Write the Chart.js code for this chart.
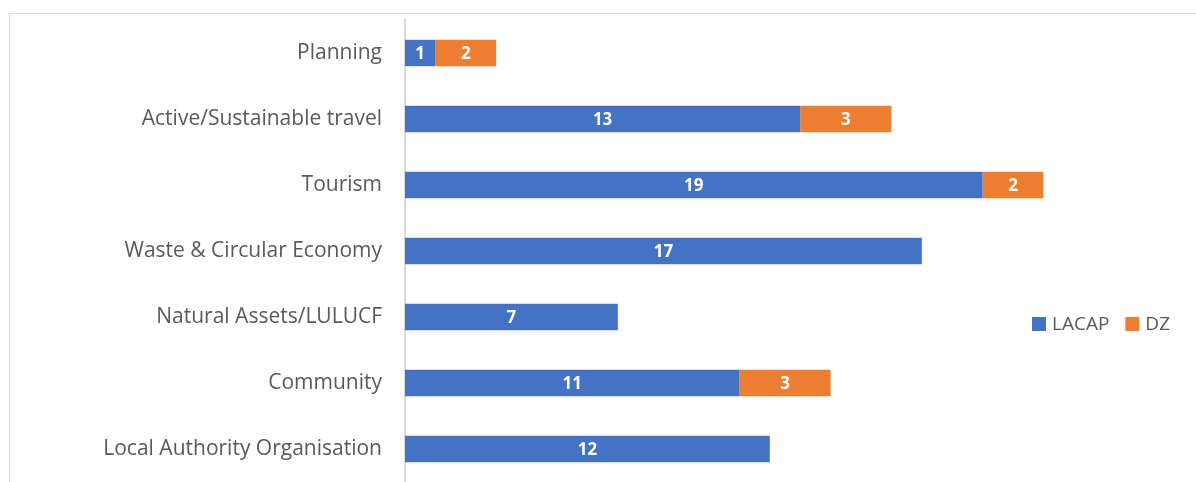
<!DOCTYPE html>
<html>
<head>
<meta charset="utf-8">
<script src="https://cdn.jsdelivr.net/npm/chart.js@4.4.1/dist/chart.umd.min.js"></script>
<style>
  html, body { margin: 0; padding: 0; background: #fff; overflow: hidden; }
  #wrap { position: relative; width: 1196px; height: 482px; }
  #frame { position: absolute; left: 9px; top: 13px; width: 1250px; height: 520px; border: 1px solid #d9d9d9; box-sizing: border-box; }
  canvas { position: absolute; left: 0; top: 0; }
</style>
</head>
<body>
<div id="wrap">
  <div id="frame"></div>
  <canvas id="barChart" width="1196" height="482"></canvas>
</div>
<script>
// categories (top to bottom)
const categories = ['Planning', 'Active/Sustainable travel', 'Tourism', 'Waste & Circular Economy', 'Natural Assets/LULUCF', 'Community', 'Local Authority Organisation'];
// series
const lacapValues = [1, 13, 19, 17, 7, 11, 12];
const dzValues = [2, 3, 2, null, null, 3, null];
const seriesNames = ['LACAP', 'DZ'];
const seriesColors = ['#4472C4', '#ED7D31'];

// value labels inside bars
const barLabelPlugin = {
    id: 'barLabels',
    afterDatasetsDraw(chart) {
        const ctx = chart.ctx;
        ctx.save();
        ctx.fillStyle = '#fff';
        ctx.font = 'bold 17px "Open Sans", Arial, sans-serif';
        ctx.textAlign = 'center';
        ctx.textBaseline = 'middle';
        chart.data.datasets.forEach((ds, i) => {
            chart.getDatasetMeta(i).data.forEach((bar, j) => {
                const v = ds.data[j];
                if (v == null || v === 0) return;
                const cx = (bar.x + bar.base) / 2;
                ctx.fillText(String(v), cx, bar.y + 1);
            });
        });
        ctx.restore();
    }
};

// legend placed inside the plot, like the original
const legendPlugin = {
    id: 'innerLegend',
    afterDraw(chart) {
        const ctx = chart.ctx;
        ctx.save();
        ctx.font = '19px "Open Sans", Arial, sans-serif';
        ctx.textBaseline = 'middle';
        let x = 1032;
        const y = 324;
        chart.data.datasets.forEach((ds) => {
            ctx.fillStyle = ds.backgroundColor;
            ctx.fillRect(x, y - 7, 14, 14);
            ctx.fillStyle = '#595959';
            ctx.fillText(ds.label, x + 20, y + 1);
            x += 20 + ctx.measureText(ds.label).width + 16;
        });
        ctx.restore();
    }
};

let barChart = new Chart(document.getElementById('barChart'), {
    type: 'bar',
    data: {
        labels: categories,
        datasets: [
            { label: seriesNames[0], data: lacapValues, backgroundColor: seriesColors[0] },
            { label: seriesNames[1], data: dzValues, backgroundColor: seriesColors[1] }
        ]
    },
    options: {
        indexAxis: 'y',
        responsive: false,
        maintainAspectRatio: false,
        animation: { duration: 0 },
        layout: { padding: { top: 20, right: 31, bottom: 0, left: 0 } },
        datasets: {
            bar: { categoryPercentage: 0.4, barPercentage: 1, borderWidth: 0 }
        },
        plugins: {
            legend: { display: false },
            tooltip: { enabled: false }
        },
        scales: {
            x: {
                stacked: true,
                display: false,
                min: 0,
                max: 25
            },
            y: {
                stacked: true,
                afterFit: (scale) => {
                    scale.width = 405;
                    scale.paddingTop = 0;
                    scale.paddingBottom = 0;
                },
                grid: { display: false },
                border: { display: true, color: '#d9d9d9', width: 2 },
                ticks: {
                    color: '#595959',
                    padding: 15,
                    font: { family: '"Open Sans", Arial, sans-serif', size: 21 }
                }
            }
        }
    },
    plugins: [barLabelPlugin, legendPlugin]
});
</script>
</body>
</html>
